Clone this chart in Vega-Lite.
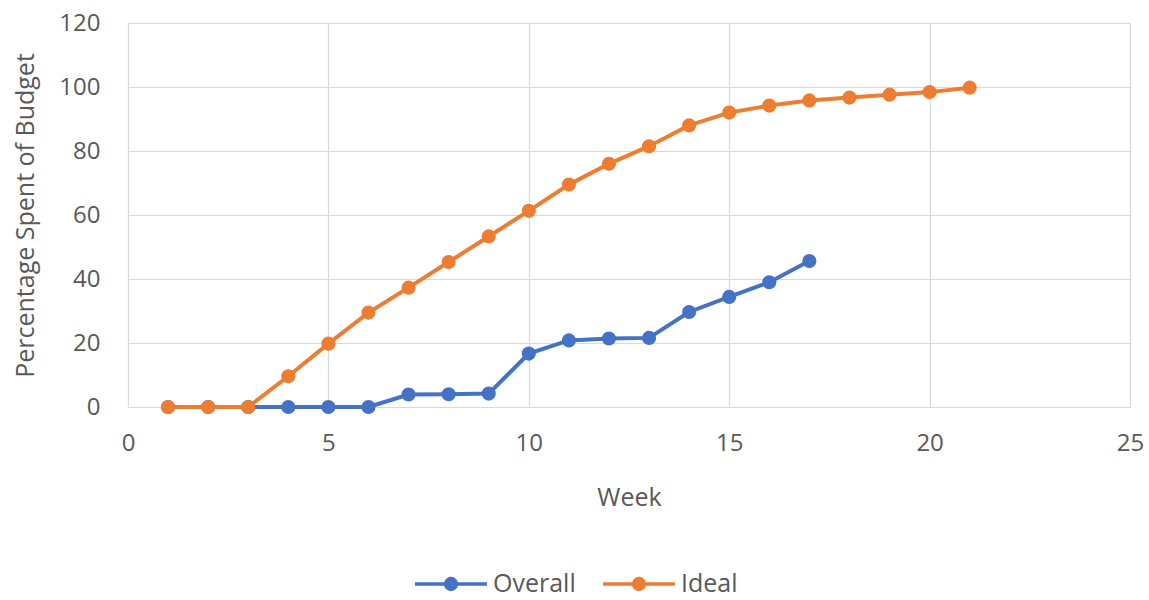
{
  "$schema": "https://vega.github.io/schema/vega-lite/v6.json",
  "autosize": {"type": "none"},
  "width": 1002,
  "height": 384,
  "padding": {"left": 128, "top": 23, "right": 19, "bottom": 193},
  "background": "white",
  "config": {
    "font": "Open Sans",
    "view": {"stroke": null},
    "axis": {
      "labelFont": "Open Sans",
      "titleFont": "Open Sans",
      "labelColor": "#595959",
      "titleColor": "#595959",
      "labelFontSize": 24,
      "titleFontSize": 25,
      "titleFontWeight": "normal",
      "gridColor": "#d9d9d9",
      "gridWidth": 1.2,
      "domain": false,
      "ticks": false
    }
  },
  "data": {
    "values": [
      {"week": 1, "series": "Overall", "pct": 0},
      {"week": 2, "series": "Overall", "pct": 0},
      {"week": 3, "series": "Overall", "pct": 0},
      {"week": 4, "series": "Overall", "pct": 0},
      {"week": 5, "series": "Overall", "pct": 0},
      {"week": 6, "series": "Overall", "pct": 0},
      {"week": 7, "series": "Overall", "pct": 3.9},
      {"week": 8, "series": "Overall", "pct": 4},
      {"week": 9, "series": "Overall", "pct": 4.2},
      {"week": 10, "series": "Overall", "pct": 16.7},
      {"week": 11, "series": "Overall", "pct": 20.8},
      {"week": 12, "series": "Overall", "pct": 21.4},
      {"week": 13, "series": "Overall", "pct": 21.6},
      {"week": 14, "series": "Overall", "pct": 29.7},
      {"week": 15, "series": "Overall", "pct": 34.4},
      {"week": 16, "series": "Overall", "pct": 39},
      {"week": 17, "series": "Overall", "pct": 45.6},
      {"week": 1, "series": "Ideal", "pct": 0},
      {"week": 2, "series": "Ideal", "pct": 0},
      {"week": 3, "series": "Ideal", "pct": 0},
      {"week": 4, "series": "Ideal", "pct": 9.6},
      {"week": 5, "series": "Ideal", "pct": 19.8},
      {"week": 6, "series": "Ideal", "pct": 29.5},
      {"week": 7, "series": "Ideal", "pct": 37.3},
      {"week": 8, "series": "Ideal", "pct": 45.3},
      {"week": 9, "series": "Ideal", "pct": 53.3},
      {"week": 10, "series": "Ideal", "pct": 61.3},
      {"week": 11, "series": "Ideal", "pct": 69.5},
      {"week": 12, "series": "Ideal", "pct": 76},
      {"week": 13, "series": "Ideal", "pct": 81.5},
      {"week": 14, "series": "Ideal", "pct": 88},
      {"week": 15, "series": "Ideal", "pct": 92},
      {"week": 16, "series": "Ideal", "pct": 94.2},
      {"week": 17, "series": "Ideal", "pct": 95.8},
      {"week": 18, "series": "Ideal", "pct": 96.7},
      {"week": 19, "series": "Ideal", "pct": 97.6},
      {"week": 20, "series": "Ideal", "pct": 98.4},
      {"week": 21, "series": "Ideal", "pct": 99.8}
    ]
  },
  "mark": {"type": "line", "strokeWidth": 4, "point": {"filled": true, "size": 200, "opacity": 1}},
  "encoding": {
    "x": {
      "field": "week", "type": "quantitative", "title": "Week",
      "scale": {"domain": [0, 25], "nice": false, "zero": false},
      "axis": {"values": [0, 5, 10, 15, 20, 25], "labelPadding": 24, "titlePadding": 30, "labelFlush": false}
    },
    "y": {
      "field": "pct", "type": "quantitative", "title": "Percentage Spent of Budget",
      "scale": {"domain": [0, 120], "nice": false},
      "axis": {"values": [0, 20, 40, 60, 80, 100, 120], "labelPadding": 28, "titlePadding": 20}
    },
    "color": {
      "field": "series", "type": "nominal",
      "scale": {"domain": ["Overall", "Ideal"], "range": ["#4472C4", "#ED7D31"]},
      "legend": {
        "title": null,
        "orient": "none",
        "direction": "horizontal",
        "legendX": 285,
        "legendY": 523,
        "padding": 0,
        "symbolType": "M-1,0L1,0M0.15,0A0.15,0.15,0,1,1,-0.15,0A0.15,0.15,0,1,1,0.15,0Z",
        "symbolSize": 5184,
        "symbolStrokeWidth": 3.5,
        "labelFont": "Open Sans",
        "labelFontSize": 25,
        "labelColor": "#595959",
        "labelOffset": 4,
        "columnPadding": 20,
        "encode": {
          "symbols": {
            "update": {
              "fill": {"scale": "color", "field": "value"},
              "stroke": {"scale": "color", "field": "value"},
              "strokeWidth": {"value": 3.5},
              "opacity": {"value": 1}
            }
          }
        }
      }
    },
    "order": {"field": "week"}
  }
}
